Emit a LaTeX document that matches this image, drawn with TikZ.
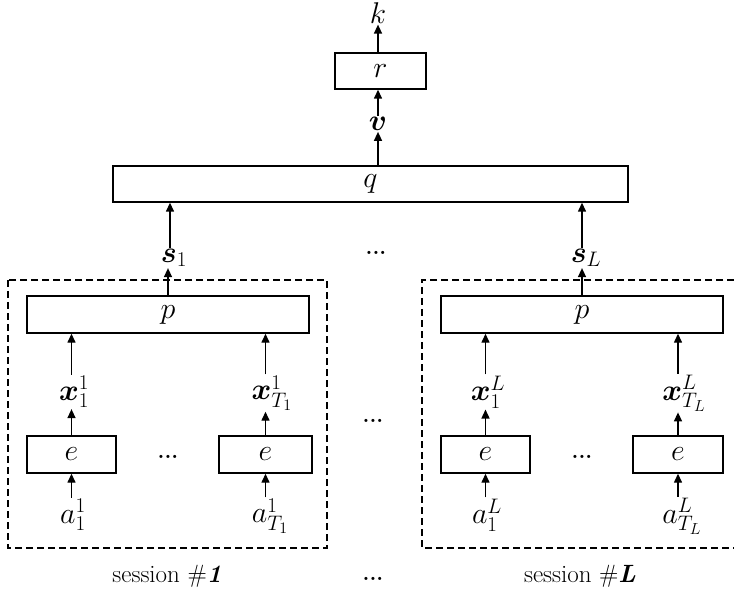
\RequirePackage{fix-cm}
\documentclass[tikz,border=0pt]{standalone}
\usepackage{amsmath}
\usepackage{bm}
\DeclareMathSizes{30}{30}{21}{16}
\usetikzlibrary{arrows.meta}
\begin{document}
\begin{tikzpicture}[x=1pt,y=-1pt,
  every node/.style={font=\fontsize{30}{34}\selectfont},
  blk/.style={draw,line width=1.4pt,minimum height=36pt,inner sep=0pt},
  lbl/.style={inner sep=1pt},
  arr/.style={line width=1.4pt,-{Triangle[length=9pt,width=8pt]}},
  sess/.style={draw,dashed,line width=1.1pt,dash pattern=on 7pt off 4pt},
  dts/.style={font=\fontsize{22}{24}\selectfont\bfseries,inner sep=0pt},
  captxt/.style={font=\fontsize{25}{28}\selectfont}]
\useasboundingbox (0,0) rectangle (734,596);

% top
\node[lbl] (k) at (378,13) {$k$};
\node[blk,minimum width=91pt] (r) at (380.5,71) {$r$};
\node[lbl] (v) at (378,124) {$\bm{v}$};
\node[blk,minimum width=515pt] (q) at (370.5,184) {$q$};
\draw[arr] (r.north -| k) -- (k.south);
\draw[arr] (v.north) -- (r.south -| v);
\draw[arr] (q.north -| v) -- (v.south);

\node[lbl] (s1) at (174,258) {$\bm{s}_1$};
\node[lbl] (sL) at (586,258) {$\bm{s}_L$};
\node[dts] (dtop) at (376,253) {...};
\draw[arr] (s1.north -| 170,0) -- (q.south -| 170,0);
\draw[arr] (sL.north -| 582,0) -- (q.south -| 582,0);

% session 1
\draw[sess] (8,280) rectangle (327,548);
\node[blk,minimum width=282pt,minimum height=37pt] (p1) at (168,314.5) {$p$};
\node[blk,minimum width=89pt,minimum height=37pt] (e11) at (71.5,454.5) {$e$};
\node[blk,minimum width=93pt,minimum height=37pt] (e12) at (265.5,454.5) {$e$};
\node[lbl] (x11) at (74,392) {$\bm{x}_1^1$};
\node[lbl] (x12) at (272,393) {$\bm{x}_{T_1}^1$};
\node[lbl] (a11) at (73,515) {$a_1^1$};
\node[lbl] (a12) at (270,516) {$a_{T_1}^1$};
\node[dts] (d1) at (168,457) {...};
\draw[arr] (x11.north -| e11) -- (p1.south -| e11);
\draw[arr] (x12.north -| e12) -- (p1.south -| e12);
\draw[arr] (e11.north) -- (x11.south -| e11);
\draw[arr] (e12.north) -- (x12.south -| e12);
\draw[arr] (a11.north -| e11) -- (e11.south);
\draw[arr] (a12.north -| e12) -- (e12.south);
\draw[arr] (p1.north) -- (s1.south -| p1);
\node[captxt] (t1) at (167,576) {session \#\textbf{\textit{1}}};

% session L
\draw[sess] (734,280) -- (422,280) -- (422,548) -- (734,548);
\node[blk,minimum width=282pt,minimum height=37pt] (pL) at (582,314.5) {$p$};
\node[blk,minimum width=89pt,minimum height=37pt] (eL1) at (485.5,454.5) {$e$};
\node[blk,minimum width=90pt,minimum height=37pt] (eL2) at (678,454.5) {$e$};
\node[lbl] (xL1) at (488,392) {$\bm{x}_1^L$};
\node[lbl] (xL2) at (684,393) {$\bm{x}_{T_L}^L$};
\node[lbl] (aL1) at (487,515) {$a_1^L$};
\node[lbl] (aL2) at (682,516) {$a_{T_L}^L$};
\node[dts] (dL) at (582,457) {...};
\draw[arr] (xL1.north -| eL1) -- (pL.south -| eL1);
\draw[arr] (xL2.north -| eL2) -- (pL.south -| eL2);
\draw[arr] (eL1.north) -- (xL1.south -| eL1);
\draw[arr] (eL2.north) -- (xL2.south -| eL2);
\draw[arr] (aL1.north -| eL1) -- (eL1.south);
\draw[arr] (aL2.north -| eL2) -- (eL2.south);
\draw[arr] (pL.north) -- (sL.south -| pL);
\node[captxt] (tL) at (580,576) {session \#\textbf{\textit{L}}};

\node[dts] (dmid) at (373,421) {...};
\node[dts] (dbot) at (373,579) {...};
\end{tikzpicture}
\end{document}
